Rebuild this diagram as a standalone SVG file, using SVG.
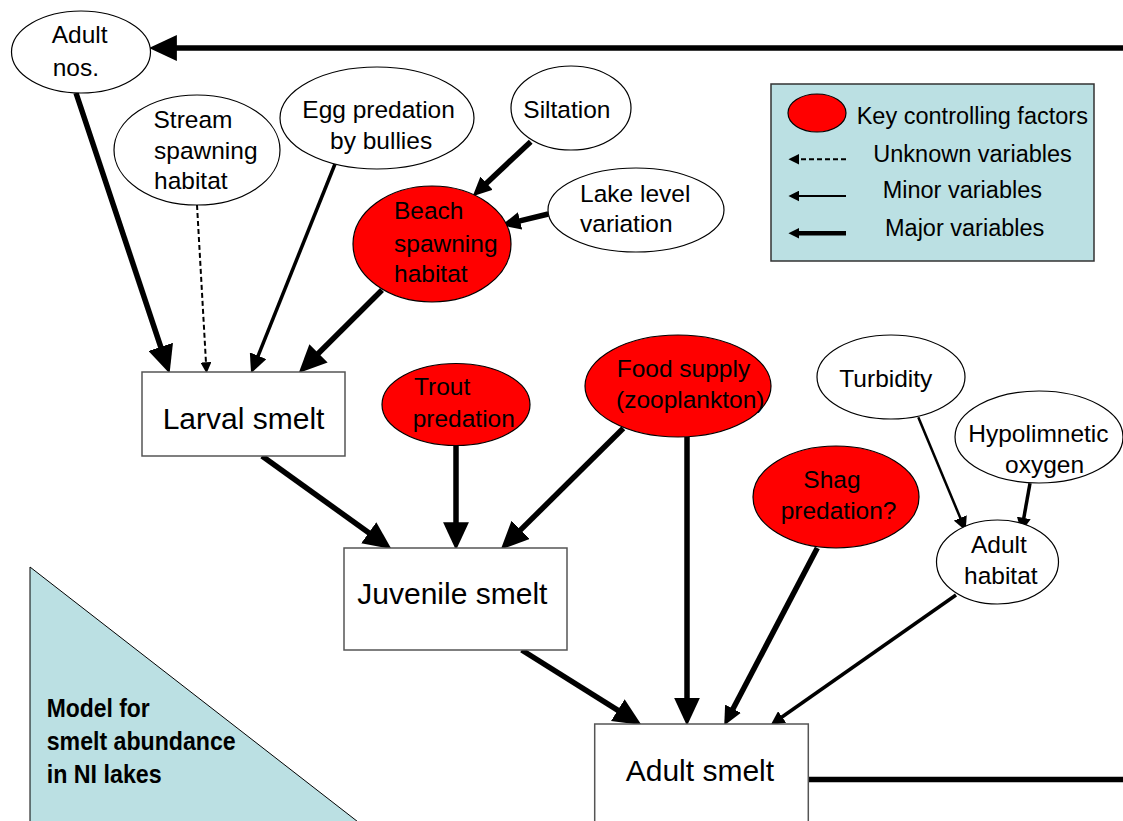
<svg xmlns="http://www.w3.org/2000/svg" width="1123" height="821" viewBox="0 0 1123 821">
<style>
text{font-family:"Liberation Sans",Arial,sans-serif;fill:#000}
.lbl{font-size:24.5px}
.box{font-size:30px}
.leg{font-size:23.5px}
.ttl{font-size:25px;font-weight:bold}
.ell{fill:#fff;stroke:#000;stroke-width:1.2}
.key{fill:#ff0000;stroke:#000;stroke-width:1.2}
.rect{fill:#fff;stroke:#555;stroke-width:1.5}
.c{fill:none;stroke:#000;stroke-linecap:butt}
.maj{stroke-width:5.5}
.med{stroke-width:3.5}
.min{stroke-width:2.5}
.dash{stroke-width:2;stroke-dasharray:5 3}
</style>
<defs>
<marker id="hb" markerUnits="userSpaceOnUse" markerWidth="28" markerHeight="26" refX="2" refY="12" orient="auto" viewBox="0 0 26 24"><path d="M0,0 L26,12 L0,24 Z" fill="#000"/></marker>
<marker id="hm" markerUnits="userSpaceOnUse" markerWidth="19" markerHeight="18" refX="2" refY="8" orient="auto" viewBox="0 0 17 16"><path d="M0,0 L17,8 L0,16 Z" fill="#000"/></marker>
<marker id="hs" markerUnits="userSpaceOnUse" markerWidth="14" markerHeight="14" refX="2" refY="6" orient="auto" viewBox="0 0 12 12"><path d="M0,0 L12,6 L0,12 Z" fill="#000"/></marker>
<marker id="ht" markerUnits="userSpaceOnUse" markerWidth="11" markerHeight="11" refX="2" refY="4.5" orient="auto" viewBox="0 0 9 9"><path d="M0,0 L9,4.5 L0,9 Z" fill="#000"/></marker>
</defs>

<g id="title-panel">
<polygon points="30,567 30,825 362,825" fill="#BBE0E3" stroke="#000" stroke-width="1"/>
<text class="ttl" x="46.7" y="716.7" textLength="103" lengthAdjust="spacingAndGlyphs">Model for</text>
<text class="ttl" x="46.7" y="750" textLength="189" lengthAdjust="spacingAndGlyphs">smelt abundance</text>
<text class="ttl" x="46.7" y="783.3" textLength="115" lengthAdjust="spacingAndGlyphs">in NI lakes</text>
</g>

<g id="legend">
<rect x="771" y="84" width="323" height="177" fill="#BBE0E3" stroke="#333" stroke-width="1.5"/>
<ellipse cx="817" cy="113" rx="29" ry="19" class="key"/>
<text class="leg" x="856.7" y="124.3">Key controlling factors</text>
<path class="c dash" d="M846,159.3 H797" marker-end="url(#ht)"/>
<text class="leg" x="873.3" y="161.7">Unknown variables</text>
<path class="c" stroke-width="2" d="M846,196 H797" marker-end="url(#ht)"/>
<text class="leg" x="882.7" y="198.3">Minor variables</text>
<path class="c" stroke-width="4.5" d="M846,233.3 H797" marker-end="url(#ht)"/>
<text class="leg" x="885" y="236">Major variables</text>
</g>

<g id="connectors">
<path class="c maj" d="M808,779.5 H1135 V48 H174.7" marker-end="url(#hb)"/>
<path class="c maj" d="M76,93 L161.4,348.9" marker-end="url(#hb)"/>
<path class="c dash" d="M197,205 L206.1,364.7" marker-end="url(#ht)"/>
<path class="c med" d="M335,164 L257.3,357.8" marker-end="url(#hm)"/>
<path class="c maj" d="M382,290 L317,354.8" marker-end="url(#hb)"/>
<path class="c maj" d="M530.7,141.7 L484.9,184.7" marker-end="url(#hm)"/>
<path class="c maj" d="M548.3,214 L517.9,221.4" marker-end="url(#hm)"/>
<path class="c maj" d="M262,456 L370.5,534" marker-end="url(#hb)"/>
<path class="c maj" d="M456,446 L456,524.3" marker-end="url(#hb)"/>
<path class="c maj" d="M623.3,428.3 L519.1,531.4" marker-end="url(#hb)"/>
<path class="c maj" d="M521.7,650 L619.6,711.3" marker-end="url(#hb)"/>
<path class="c maj" d="M687,437 L687,700" marker-end="url(#hb)"/>
<path class="c maj" d="M817.3,548 L732,710.7" marker-end="url(#hm)"/>
<path class="c med" d="M956,595 L780.2,718.3" marker-end="url(#hs)"/>
<path class="c min" d="M918.3,417.3 L961.2,520.1" marker-end="url(#hs)"/>
<path class="c med" d="M1030,483.3 L1023.4,520.2" marker-end="url(#hs)"/>
</g>

<g id="adult-nos">
<ellipse cx="81" cy="52" rx="69.5" ry="41" class="ell"/>
<text class="lbl" x="51.7" y="43.3">Adult</text>
<text class="lbl" x="52.7" y="76">nos.</text>
</g>

<g id="stream-spawning-habitat">
<ellipse cx="197" cy="150" rx="83" ry="55" class="ell"/>
<text class="lbl" x="153.5" y="127.7">Stream</text>
<text class="lbl" x="154" y="159.3">spawning</text>
<text class="lbl" x="154" y="189.3">habitat</text>
</g>

<g id="egg-predation">
<ellipse cx="377" cy="118" rx="97" ry="51" class="ell"/>
<text class="lbl" x="302.3" y="118.3">Egg predation</text>
<text class="lbl" x="330" y="149.3">by bullies</text>
</g>

<g id="siltation">
<ellipse cx="571" cy="108" rx="60" ry="42" class="ell"/>
<text class="lbl" x="523.3" y="118.3">Siltation</text>
</g>

<g id="lake-level-variation">
<ellipse cx="636" cy="210" rx="88" ry="42" class="ell"/>
<text class="lbl" x="580" y="201.7">Lake level</text>
<text class="lbl" x="580" y="231.7">variation</text>
</g>

<g id="beach-spawning-habitat">
<ellipse cx="432" cy="244" rx="79" ry="58" class="key"/>
<text class="lbl" x="394" y="219.3">Beach</text>
<text class="lbl" x="394" y="251.7">spawning</text>
<text class="lbl" x="394" y="282.3">habitat</text>
</g>

<g id="larval-smelt">
<rect x="142" y="372" width="203" height="84" class="rect"/>
<text class="box" x="162.7" y="429">Larval smelt</text>
</g>

<g id="trout-predation">
<ellipse cx="456" cy="404.5" rx="74" ry="41" class="key"/>
<text class="lbl" x="414" y="395">Trout</text>
<text class="lbl" x="412.7" y="426.7">predation</text>
</g>

<g id="food-supply">
<ellipse cx="678" cy="386" rx="93" ry="51" class="key"/>
<text class="lbl" x="616.7" y="377.3">Food supply</text>
<text class="lbl" x="616" y="408.3">(zooplankton)</text>
</g>

<g id="turbidity">
<ellipse cx="891" cy="377" rx="74" ry="42" class="ell"/>
<text class="lbl" x="839.3" y="386.7">Turbidity</text>
</g>

<g id="hypolimnetic-oxygen">
<ellipse cx="1039" cy="437" rx="84" ry="46" class="ell"/>
<text class="lbl" x="968.3" y="441.7">Hypolimnetic</text>
<text class="lbl" x="1005" y="472.5">oxygen</text>
</g>

<g id="shag-predation">
<ellipse cx="836" cy="497" rx="83" ry="51" class="key"/>
<text class="lbl" x="803.3" y="488.3">Shag</text>
<text class="lbl" x="780.7" y="519.3">predation?</text>
</g>

<g id="adult-habitat">
<ellipse cx="997.5" cy="562" rx="61" ry="42" class="ell"/>
<text class="lbl" x="971" y="553.3">Adult</text>
<text class="lbl" x="964" y="584">habitat</text>
</g>

<g id="juvenile-smelt">
<rect x="344" y="548" width="223" height="102" class="rect"/>
<text class="box" x="357.3" y="604">Juvenile smelt</text>
</g>

<g id="adult-smelt">
<rect x="594.7" y="724" width="213.6" height="120" class="rect"/>
<text class="box" x="625.7" y="780.7">Adult smelt</text>
</g>
</svg>
